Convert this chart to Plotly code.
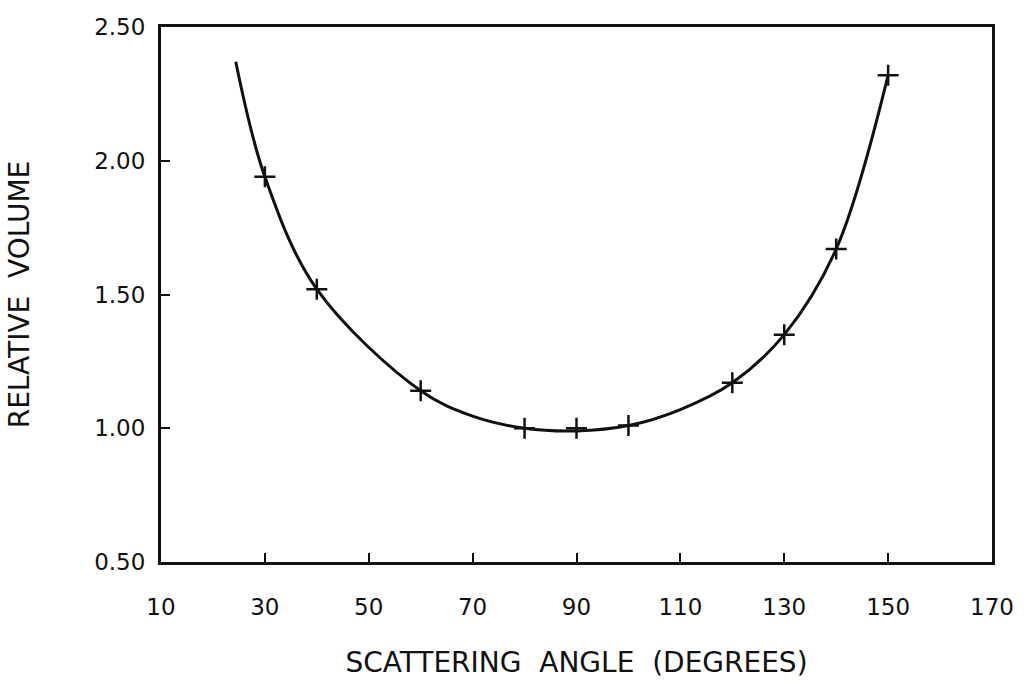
import plotly.graph_objects as go

# Measured points (markers)
angles = [30, 40, 60, 80, 90, 100, 120, 130, 140, 150]
volumes = [1.94, 1.52, 1.14, 1.00, 1.00, 1.01, 1.17, 1.35, 1.67, 2.32]

# Fitted curve
curve_x = [24.4, 30, 40, 60, 70, 80, 90, 100, 110, 120, 130, 140, 150]
curve_y = [2.37, 1.94, 1.52, 1.14, 1.045, 1.00, 0.99, 1.01, 1.07, 1.17, 1.35, 1.67, 2.32]

x_ticks = [10, 30, 50, 70, 90, 110, 130, 150, 170]
y_ticks = [0.5, 1.0, 1.5, 2.0, 2.5]
y_tick_text = ["0.50", "1.00", "1.50", "2.00", "2.50"]

FONT = "DejaVu Sans"

fig = go.Figure()
fig.add_trace(go.Scatter(
    x=curve_x, y=curve_y, mode="lines",
    line=dict(color="#111111", width=3, shape="spline", smoothing=1.0),
    hoverinfo="skip", showlegend=False,
))
fig.add_trace(go.Scatter(
    x=angles, y=volumes, mode="markers",
    marker=dict(symbol="cross-thin", size=15, line=dict(color="#111111", width=2.5)),
    showlegend=False,
))

fig.update_layout(
    width=1026, height=685,
    margin=dict(l=161, r=32, t=27, b=123),
    paper_bgcolor="white", plot_bgcolor="white",
    font=dict(family=FONT, color="#111111"),
    showlegend=False,
)
fig.update_xaxes(
    range=[10, 170], tickmode="array", tickvals=x_ticks,
    ticks="inside", ticklen=9, tickwidth=2, tickcolor="#111111",
    showline=True, linewidth=3, linecolor="#111111", mirror=True,
    showgrid=False, zeroline=False,
    tickfont=dict(family=FONT, size=23, color="#111111"),
    ticklabelstandoff=22,
    title=dict(text="SCATTERING  ANGLE  (DEGREES)", font=dict(family=FONT, size=28, color="#111111"), standoff=34),
)
fig.update_yaxes(
    range=[0.5, 2.5], tickmode="array", tickvals=y_ticks, ticktext=y_tick_text,
    ticks="inside", ticklen=9, tickwidth=2, tickcolor="#111111",
    showline=True, linewidth=3, linecolor="#111111", mirror=True,
    showgrid=False, zeroline=False,
    tickfont=dict(family=FONT, size=23, color="#111111"),
    ticklabelstandoff=8,
    title=dict(text="RELATIVE  VOLUME", font=dict(family=FONT, size=28, color="#111111"), standoff=57),
)

fig.write_html("out.html")
